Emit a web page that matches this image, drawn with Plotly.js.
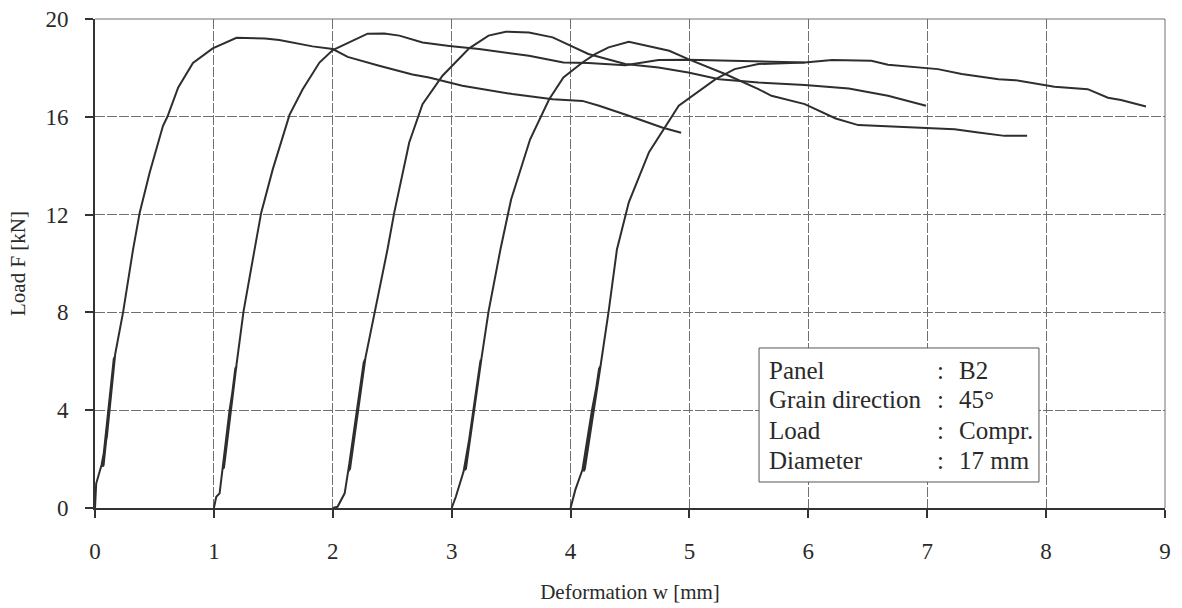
<!DOCTYPE html>
<html>
<head>
<meta charset="utf-8">
<script src="https://cdn.plot.ly/plotly-3.0.1.min.js"></script>
<style>html,body{margin:0;padding:0;background:#fff;}#chart{width:1182px;height:608px;}</style>
</head>
<body>
<div id="chart"></div>
<script>
// Test 1 (starts at w = 0)
const w1 = [0, 0.01, 0.055, 0.1, 0.168, 0.158, 0.062, 0.072, 0.17, 0.236, 0.32, 0.376, 0.46, 0.572, 0.609, 0.70, 0.824, 0.99, 1.19, 1.43, 1.55, 1.83, 2.0, 2.125, 2.39, 2.67, 2.81, 3.09, 3.51, 3.85, 4.10, 4.24, 4.49, 4.77, 4.93];
const F1 = [0, 1.0, 1.76, 2.92, 6.2, 6.1, 1.7, 1.75, 6.3, 8.0, 10.57, 12.08, 13.72, 15.63, 16.0, 17.2, 18.2, 18.8, 19.23, 19.2, 19.14, 18.88, 18.77, 18.45, 18.09, 17.73, 17.61, 17.27, 16.93, 16.72, 16.65, 16.45, 16.04, 15.56, 15.35];
// Test 2 (starts at w = 1)
const w2 = [1.0, 1.02, 1.048, 1.07, 1.132, 1.19, 1.18, 1.075, 1.085, 1.19, 1.249, 1.342, 1.398, 1.495, 1.636, 1.747, 1.888, 2.0, 2.11, 2.293, 2.433, 2.56, 2.755, 2.81, 2.98, 3.23, 3.65, 3.94, 4.15, 4.46, 4.74, 4.99, 5.58, 5.97];
const F2 = [0, 0.46, 0.6, 1.56, 4.0, 5.8, 5.7, 1.6, 1.65, 5.85, 8.03, 10.57, 12.08, 13.85, 16.08, 17.13, 18.22, 18.73, 18.98, 19.4, 19.41, 19.32, 19.04, 19.0, 18.9, 18.77, 18.5, 18.22, 18.2, 18.11, 18.32, 18.33, 18.27, 18.22];
// Test 3 (starts at w = 2)
const w3 = [2.0, 2.04, 2.1, 2.14, 2.21, 2.27, 2.26, 2.13, 2.145, 2.275, 2.355, 2.46, 2.517, 2.643, 2.755, 2.923, 3.147, 3.31, 3.455, 3.65, 3.85, 4.15, 4.46, 4.74, 4.99, 5.25, 5.58, 5.97, 6.34, 6.67, 6.99];
const F3 = [0, 0.05, 0.6, 1.83, 4.0, 6.07, 5.95, 1.5, 1.6, 6.15, 8.03, 10.57, 12.08, 14.95, 16.52, 17.68, 18.8, 19.32, 19.48, 19.45, 19.25, 18.57, 18.16, 18.02, 17.81, 17.54, 17.4, 17.3, 17.16, 16.86, 16.45];
// Test 4 (starts at w = 3)
const w4 = [3.0, 3.035, 3.1, 3.19, 3.245, 3.24, 3.11, 3.12, 3.25, 3.31, 3.41, 3.5, 3.66, 3.82, 3.94, 4.1, 4.21, 4.32, 4.49, 4.83, 4.99, 5.3, 5.58, 5.69, 5.97, 6.23, 6.42, 6.99, 7.23, 7.43, 7.65, 7.84];
const F4 = [0, 0.46, 1.49, 4.0, 6.07, 5.95, 1.55, 1.6, 6.1, 8.03, 10.57, 12.62, 15.08, 16.72, 17.61, 18.22, 18.57, 18.84, 19.07, 18.7, 18.36, 17.75, 17.13, 16.86, 16.52, 15.93, 15.66, 15.52, 15.49, 15.36, 15.22, 15.22];
// Test 5 (starts at w = 4)
const w5 = [4.0, 4.04, 4.1, 4.18, 4.25, 4.24, 4.11, 4.12, 4.255, 4.32, 4.39, 4.49, 4.66, 4.91, 5.22, 5.38, 5.58, 5.97, 6.2, 6.53, 6.67, 6.87, 7.09, 7.29, 7.6, 7.74, 7.93, 8.07, 8.35, 8.52, 8.63, 8.84];
const F5 = [0, 0.74, 1.56, 4.0, 5.79, 5.7, 1.5, 1.6, 5.9, 8.03, 10.57, 12.5, 14.55, 16.45, 17.54, 17.95, 18.16, 18.22, 18.32, 18.29, 18.13, 18.05, 17.95, 17.75, 17.54, 17.5, 17.34, 17.23, 17.13, 16.78, 16.69, 16.42];

const xTicks = [0, 1, 2, 3, 4, 5, 6, 7, 8, 9];
const yTicks = [0, 4, 8, 12, 16, 20];
const infoLabels = ['Panel', 'Grain direction', 'Load', 'Diameter'];
const infoValues = ['B2', '45°', 'Compr.', '17 mm'];

const series = [[w1, F1], [w2, F2], [w3, F3], [w4, F4], [w5, F5]];
const traces = series.map(([w, F]) => ({
  x: w, y: F, type: 'scatter', mode: 'lines',
  line: {color: '#2e2e2e', width: 2}, showlegend: false, hoverinfo: 'skip'
}));

const FONT = 'Liberation Serif, Times New Roman, serif';
const TXT = '#2a2a2a';

// info box rows (paper coordinates)
const rowY = [0.282, 0.221, 0.158, 0.098];
const annotations = [];
infoLabels.forEach((t, i) => {
  annotations.push({xref: 'paper', yref: 'paper', x: 0.628, y: rowY[i], xanchor: 'left', yanchor: 'middle', text: t, showarrow: false, font: {family: FONT, size: 25, color: TXT}});
  annotations.push({xref: 'paper', yref: 'paper', x: 0.79, y: rowY[i], xanchor: 'center', yanchor: 'middle', text: ':', showarrow: false, font: {family: FONT, size: 25, color: TXT}});
  annotations.push({xref: 'paper', yref: 'paper', x: 0.8055, y: rowY[i], xanchor: 'left', yanchor: 'middle', text: infoValues[i], showarrow: false, font: {family: FONT, size: 25, color: TXT}});
});

const layout = {
  width: 1182, height: 608,
  margin: {l: 95, r: 17, t: 19, b: 100},
  paper_bgcolor: '#ffffff', plot_bgcolor: '#ffffff',
  font: {family: FONT, color: TXT},
  xaxis: {
    range: [0, 9], tickvals: xTicks, ticktext: xTicks.map(String),
    showgrid: true, gridcolor: '#707070', gridwidth: 1, griddash: '10px,2px',
    zeroline: false, showline: true, linecolor: '#333', linewidth: 2,
    ticks: 'outside', ticklen: 8, tickcolor: '#333', tickwidth: 2,
    ticklabelstandoff: 13,
    tickfont: {family: FONT, size: 23, color: TXT},
    title: {text: 'Deformation w [mm]', font: {family: FONT, size: 21, color: TXT}, standoff: 22},
    fixedrange: true
  },
  yaxis: {
    range: [0, 20], tickvals: yTicks, ticktext: yTicks.map(String),
    showgrid: true, gridcolor: '#707070', gridwidth: 1, griddash: '10px,2px',
    zeroline: false, showline: true, linecolor: '#333', linewidth: 2,
    ticks: 'outside', ticklen: 8, tickcolor: '#333', tickwidth: 2,
    ticklabelstandoff: 12,
    tickfont: {family: FONT, size: 23, color: TXT},
    title: {text: 'Load F [kN]', font: {family: FONT, size: 21, color: TXT}, standoff: 14},
    fixedrange: true
  },
  shapes: [
    {type: 'rect', xref: 'paper', yref: 'paper', x0: 0.6206, x1: 0.8822, y0: 0.0532, y1: 0.3272,
     line: {color: '#555', width: 1}, fillcolor: '#ffffff', layer: 'above'},
    {type: 'line', xref: 'paper', yref: 'paper', x0: 0, x1: 1, y0: 1, y1: 1, line: {color: '#707070', width: 1}},
    {type: 'line', xref: 'paper', yref: 'paper', x0: 1, x1: 1, y0: 0, y1: 1, line: {color: '#707070', width: 1}}
  ],
  annotations: annotations
};

Plotly.newPlot('chart', traces, layout, {displayModeBar: false, staticPlot: true});
</script>
</body>
</html>
